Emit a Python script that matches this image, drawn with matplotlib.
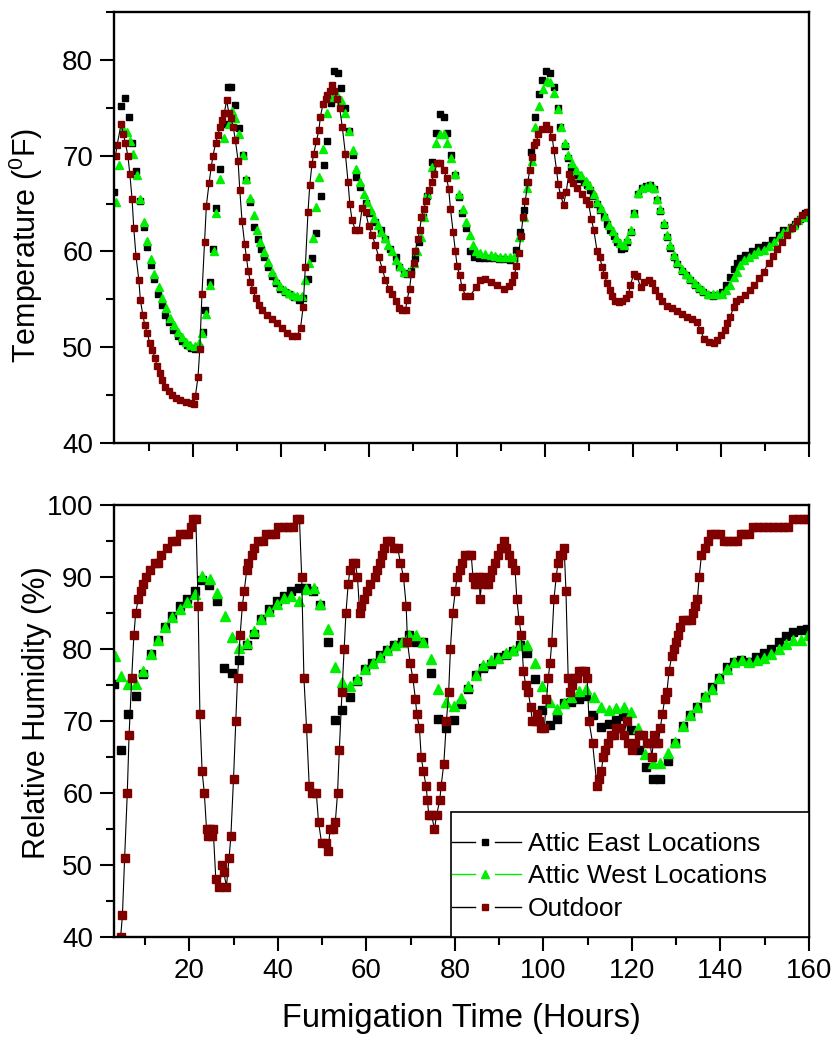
import numpy as np
import matplotlib
matplotlib.use("Agg")
import matplotlib.pyplot as plt
from matplotlib.ticker import MultipleLocator
from matplotlib.lines import Line2D
from matplotlib.patches import Rectangle
from matplotlib.legend_handler import HandlerBase

plt.rcParams['font.family'] = ['Liberation Sans', 'DejaVu Sans']
plt.rcParams['mathtext.default'] = 'regular'

# Temperature, outdoor
t_out_T = [2.35, 2.7, 3.6, 4.1, 4.6, 5.15, 5.6, 6.1, 6.5, 7.0,
           7.65, 8.0, 8.55, 9.0, 9.55, 10.15, 10.7, 11.3, 11.8, 12.4,
           13.0, 13.7, 14.5, 15.2, 16.2, 17.1, 18.3, 19.4, 20.2, 20.5,
           21.1, 21.5, 22.0, 22.6, 23.0, 23.6, 24.1, 24.5, 25.1, 25.6,
           26.1, 26.6, 27.1, 27.6, 28.1, 28.6, 29.1, 29.6, 30.2, 30.6,
           31.1, 31.7, 32.1, 32.5, 33.0, 33.6, 34.2, 34.9, 35.7, 36.8,
           38.0, 39.1, 40.2, 41.4, 42.5, 43.6, 44.4, 45.0, 45.5, 46.1,
           46.5, 47.0, 47.4, 48.0, 48.6, 48.9, 49.5, 50.1, 50.5, 51.1,
           51.6, 52.1, 52.7, 53.3, 53.9, 54.6, 55.2, 55.6, 56.1, 56.9,
           57.7, 58.4, 59.2, 59.9, 60.7, 61.4, 62.2, 63.0, 63.7, 64.5,
           65.2, 66.0, 66.7, 67.5, 68.3, 68.6, 69.2, 69.6, 70.2, 70.5,
           71.1, 71.5, 71.9, 72.4, 73.0, 73.6, 74.2, 74.7, 75.5, 76.2,
           77.0, 77.6, 78.1, 78.5, 79.1, 79.6, 80.0, 80.6, 81.1, 81.9,
           83.0, 84.2, 85.3, 86.4, 87.6, 89.1, 90.6, 91.7, 92.5, 93.0,
           93.5, 94.0, 94.5, 95.0, 95.5, 96.1, 96.5, 97.0, 97.4, 98.0,
           98.5, 99.3, 100.1, 100.8, 101.6, 102.0, 102.6, 103.0, 103.5, 104.2,
           104.8, 105.4, 105.8, 106.4, 107.3, 108.3, 109.2, 109.9, 110.5, 111.1,
           111.8, 112.4, 113.0, 113.5, 114.1, 114.7, 115.2, 116.0, 116.7, 117.5,
           118.3, 119.0, 119.4, 120.2, 120.9, 121.7, 122.4, 123.6, 124.3, 125.1,
           125.8, 126.6, 127.7, 128.9, 130.0, 131.1, 132.3, 133.4, 134.5, 135.3,
           136.1, 137.2, 138.3, 139.1, 140.0, 140.8, 141.4, 142.1, 142.9, 143.5,
           144.4, 145.5, 146.7, 147.6, 148.6, 149.7, 150.8, 151.8, 152.7, 153.9,
           155.0, 156.1, 157.3, 158.4, 159.5]
out_T = [70.0, 71.1, 73.3, 72.3, 71.3, 70.0, 68.1, 65.5, 62.4, 59.5,
         57.0, 54.9, 53.4, 52.3, 51.5, 50.4, 49.7, 48.9, 48.0, 47.3,
         46.6, 45.9, 45.4, 45.0, 44.7, 44.5, 44.3, 44.2, 44.1, 44.9,
         46.9, 49.8, 55.6, 61.0, 64.8, 67.1, 68.8, 70.0, 71.3, 72.2,
         73.0, 73.7, 74.5, 75.8, 74.5, 73.9, 73.0, 71.6, 69.5, 66.4,
         63.2, 60.8, 59.4, 58.0, 56.8, 56.0, 55.1, 54.4, 53.9, 53.4,
         53.0, 52.5, 52.0, 51.5, 51.2, 51.2, 52.0, 54.2, 58.4, 64.1,
         66.9, 69.1, 70.2, 71.5, 72.7, 74.0, 75.4, 75.9, 76.3, 76.8,
         77.4, 76.8, 75.9, 75.0, 73.0, 70.2, 67.3, 65.0, 63.3, 62.2,
         62.2, 64.5, 64.1, 62.7, 61.7, 60.7, 59.4, 58.2, 57.0, 56.1,
         55.6, 54.8, 54.1, 53.9, 53.9, 54.9, 56.1, 57.7, 58.8, 60.1,
         61.3, 62.2, 63.6, 64.4, 65.3, 66.4, 67.3, 68.1, 69.2, 69.2,
         68.5, 67.7, 66.5, 64.4, 62.0, 60.1, 58.5, 57.5, 56.3, 55.4,
         55.3, 56.3, 57.0, 57.1, 56.8, 56.5, 56.1, 56.4, 56.8, 57.5,
         58.5, 59.8, 61.6, 63.6, 65.3, 67.3, 68.5, 69.9, 71.1, 71.4,
         72.3, 72.8, 73.2, 72.8, 72.0, 70.6, 68.5, 67.0, 65.9, 64.9,
         66.2, 68.1, 67.6, 67.1, 66.6, 66.0, 65.4, 65.0, 63.4, 62.2,
         60.1, 59.4, 58.4, 57.5, 56.7, 56.0, 55.3, 54.8, 54.7, 54.8,
         55.1, 55.6, 56.5, 57.7, 57.4, 56.3, 56.8, 57.0, 56.7, 56.0,
         55.3, 54.8, 54.3, 54.1, 53.8, 53.5, 53.2, 52.9, 52.6, 51.8,
         50.9, 50.5, 50.4, 50.8, 51.3, 51.8, 52.5, 53.2, 54.2, 54.8,
         55.0, 55.5, 56.0, 56.5, 57.2, 57.9, 58.8, 59.5, 60.3, 61.0,
         61.7, 62.4, 63.2, 63.8, 64.1]

# Temperature, attic east
t_east_T = [2.1, 3.6, 4.4, 5.4, 6.1, 7.0, 7.9, 8.8, 9.5, 10.5,
            11.2, 12.0, 12.8, 13.6, 14.5, 15.5, 16.5, 17.5, 18.5, 19.5,
            20.5, 21.4, 22.3, 22.8, 23.8, 24.5, 25.3, 26.2, 27.1, 28.0,
            28.7, 29.6, 30.5, 31.3, 32.1, 32.9, 33.9, 34.7, 35.4, 36.2,
            37.0, 38.0, 38.9, 39.8, 40.8, 41.7, 42.9, 44.0, 45.0, 46.1,
            47.0, 48.0, 49.0, 49.8, 50.5, 51.3, 52.0, 52.9, 53.6, 54.5,
            55.4, 56.3, 57.1, 57.9, 59.2, 60.3, 61.4, 62.6, 63.7, 64.8,
            66.0, 66.9, 67.9, 68.6, 69.5, 70.5, 71.4, 72.3, 73.2, 74.3,
            75.3, 76.2, 77.0, 77.7, 78.6, 79.5, 80.4, 81.1, 82.0, 83.0,
            83.8, 84.9, 86.1, 87.2, 88.3, 89.5, 90.6, 92.1, 93.3, 94.4,
            95.3, 96.0, 96.8, 97.8, 98.6, 99.3, 100.3, 101.2, 102.1, 102.9,
            103.5, 104.5, 105.2, 105.8, 106.5, 107.3, 108.0, 108.8, 109.5, 110.3,
            111.0, 111.8, 112.5, 113.3, 114.0, 114.8, 115.6, 116.4, 117.3, 117.9,
            118.6, 119.5, 120.3, 121.1, 122.0, 123.0, 123.9, 124.8, 125.5, 126.2,
            127.0, 127.7, 128.5, 129.2, 130.1, 131.1, 132.1, 133.0, 134.0, 134.9,
            135.9, 137.0, 138.1, 139.1, 140.2, 141.2, 142.1, 142.9, 143.6, 144.4,
            145.5, 147.0, 148.5, 150.1, 151.6, 153.1, 154.2, 155.8, 156.9, 158.0,
            159.2, 159.9]
east_T = [66.2, 75.2, 76.0, 74.0, 71.3, 68.4, 65.3, 62.6, 60.5, 58.6,
          57.1, 55.6, 54.4, 53.4, 52.6, 51.8, 51.2, 50.7, 50.2, 49.9,
          49.8, 50.0, 51.6, 53.9, 56.8, 60.3, 64.5, 68.6, 73.3, 77.2,
          77.2, 75.3, 72.9, 70.1, 67.5, 65.2, 62.6, 61.3, 60.3, 59.4,
          58.4, 57.4, 56.7, 56.1, 55.8, 55.6, 55.2, 54.9, 55.1, 57.1,
          59.3, 61.9, 65.8, 69.0, 71.5, 75.5, 78.8, 78.6, 77.1, 75.0,
          72.6, 70.1, 67.8, 66.7, 65.1, 64.0, 63.1, 62.2, 61.3, 60.3,
          59.4, 58.4, 57.8, 57.6, 58.0, 59.3, 61.0, 63.6, 65.8, 69.3,
          72.4, 74.4, 74.0, 72.4, 70.1, 68.0, 65.7, 64.0, 62.4, 60.1,
          59.4, 59.3, 59.3, 59.3, 59.3, 59.2, 59.2, 59.1, 60.2, 62.0,
          64.3, 67.3, 70.4, 74.0, 76.4, 77.9, 78.8, 78.6, 77.2, 75.0,
          73.0, 71.0, 69.8, 68.8, 68.4, 68.0, 67.6, 67.3, 66.9, 66.4,
          65.8, 65.0, 64.3, 63.6, 62.9, 62.2, 61.6, 61.0, 60.3, 60.4,
          61.0, 62.0, 64.0, 66.0, 66.6, 66.8, 66.9, 66.5, 65.4, 64.2,
          62.8, 61.5, 60.4, 59.4, 58.7, 58.0, 57.5, 57.0, 56.5, 56.1,
          55.8, 55.5, 55.4, 55.5, 55.8, 56.5, 57.3, 58.2, 58.8, 59.3,
          59.6, 60.1, 60.5, 60.7, 61.2, 61.7, 62.2, 62.6, 62.9, 63.4,
          64.0, 64.1]

# Temperature, attic west
t_west_T = [2.35, 3.1, 4.1, 5.0, 5.6, 6.3, 7.3, 8.0, 8.8, 9.5,
            10.5, 11.2, 12.2, 13.0, 13.9, 14.7, 15.6, 16.5, 17.5, 18.3,
            19.2, 20.3, 21.3, 22.0, 23.0, 23.8, 24.7, 25.3, 26.2, 27.1,
            28.1, 28.9, 29.6, 30.5, 31.4, 32.1, 32.9, 33.8, 34.5, 35.3,
            36.2, 37.0, 38.0, 38.9, 39.8, 40.8, 41.7, 42.7, 43.6, 44.8,
            45.5, 46.3, 47.2, 48.0, 48.7, 49.5, 50.5, 51.8, 52.7, 53.5,
            54.6, 55.4, 56.3, 57.0, 57.9, 58.8, 59.5, 60.5, 61.2, 62.0,
            62.8, 63.6, 64.3, 65.2, 66.2, 67.1, 68.0, 69.0, 70.2, 70.9,
            71.7, 72.4, 73.2, 74.3, 75.1, 76.2, 77.0, 77.7, 78.6, 79.5,
            80.4, 81.3, 82.0, 82.9, 83.6, 84.4, 85.3, 86.4, 87.6, 88.7,
            89.8, 91.0, 92.1, 93.0, 94.0, 95.1, 96.0, 97.0, 97.8, 98.6,
            99.5, 100.5, 101.2, 102.0, 102.9, 103.6, 104.5, 105.2, 106.1, 107.1,
            108.2, 109.2, 110.1, 111.1, 111.8, 112.7, 113.6, 114.5, 115.4, 116.2,
            117.1, 117.9, 118.6, 119.5, 120.3, 121.1, 122.0, 123.0, 123.9, 124.8,
            125.5, 126.2, 127.0, 127.7, 128.5, 129.2, 130.1, 131.1, 132.1, 133.0,
            134.0, 134.9, 135.9, 137.0, 138.1, 139.1, 140.2, 141.2, 142.1, 142.9,
            143.6, 144.4, 145.3, 146.3, 147.4, 148.5, 149.7, 150.8, 152.0, 153.1,
            154.2, 155.4, 156.5, 157.6, 158.8, 159.7]
west_T = [65.2, 69.0, 72.8, 72.5, 71.5, 70.2, 68.0, 65.5, 63.1, 61.1,
          59.2, 57.6, 56.3, 55.1, 54.1, 53.1, 52.3, 51.6, 51.1, 50.6,
          50.2, 50.1, 50.4, 51.5, 53.5, 56.5, 60.1, 64.0, 67.6, 71.9,
          73.3, 74.7, 73.9, 72.3, 70.1, 67.6, 65.6, 63.8, 62.2, 61.0,
          59.9, 58.9, 57.9, 57.0, 56.4, 56.0, 55.7, 55.5, 55.4, 55.4,
          57.0, 58.8, 61.4, 64.6, 67.8, 70.7, 74.5, 76.1, 76.3, 75.8,
          74.5, 72.6, 70.6, 68.6, 67.3, 66.0, 65.2, 64.3, 63.5, 62.8,
          62.0, 61.4, 60.7, 60.0, 59.1, 58.5, 57.9, 57.9, 58.8, 60.0,
          61.5, 63.6, 66.0, 68.8, 71.3, 72.3, 72.3, 71.3, 69.8, 68.1,
          66.0, 64.4, 63.1, 61.7, 60.7, 60.1, 59.8, 59.7, 59.6, 59.5,
          59.4, 59.4, 59.4, 59.4, 61.5, 63.6, 66.6, 69.5, 73.0, 75.2,
          77.0, 77.8, 77.7, 76.6, 74.9, 73.0, 71.3, 70.1, 69.2, 68.5,
          68.0, 67.4, 66.9, 66.0, 65.2, 64.5, 63.7, 62.8, 62.1, 61.4,
          60.9, 60.7, 61.3, 62.2, 64.0, 66.1, 66.6, 66.7, 66.9, 66.6,
          65.5, 64.4, 63.0, 61.7, 60.7, 59.6, 58.9, 58.2, 57.7, 57.2,
          56.7, 56.3, 56.0, 55.6, 55.6, 55.6, 55.6, 56.0, 56.5, 57.3,
          57.9, 58.6, 59.1, 59.4, 59.7, 60.0, 60.2, 60.6, 61.0, 61.5,
          62.0, 62.5, 62.8, 63.3, 63.6, 64.0]

# Relative humidity, outdoor
t_out_RH = [4.5, 4.9, 5.4, 6.0, 6.4, 7.0, 7.5, 7.9, 8.5, 9.0,
            9.6, 10.3, 11.1, 12.2, 13.0, 13.7, 14.9, 16.0, 17.0, 17.9,
            19.0, 19.8, 20.3, 20.9, 21.5, 22.0, 22.4, 22.9, 23.4, 23.9,
            24.3, 24.7, 25.1, 25.4, 26.0, 26.8, 27.5, 27.8, 28.4, 29.0,
            29.4, 30.0, 30.5, 30.9, 31.5, 32.0, 32.4, 33.0, 33.3, 34.1,
            34.7, 35.6, 36.7, 37.3, 38.4, 39.4, 40.1, 41.3, 42.4, 43.5,
            44.3, 44.9, 45.4, 45.9, 46.5, 47.1, 47.7, 48.7, 49.2, 49.9,
            50.9, 51.4, 51.8, 52.4, 53.0, 53.5, 53.9, 54.5, 55.0, 55.4,
            55.9, 56.3, 56.9, 57.5, 58.0, 58.5, 58.9, 59.5, 60.1, 60.9,
            62.0, 62.5, 63.0, 63.5, 64.0, 64.6, 65.4, 66.2, 67.1, 67.7,
            68.4, 69.0, 69.3, 69.9, 70.5, 71.1, 71.4, 72.0, 72.4, 72.9,
            73.5, 73.8, 74.1, 74.7, 75.4, 75.9, 76.6, 76.9, 77.5, 78.1,
            78.6, 79.0, 79.5, 80.1, 80.5, 81.1, 81.6, 82.2, 83.2, 83.7,
            84.1, 84.5, 84.9, 85.5, 85.7, 86.2, 87.0, 87.5, 88.0, 88.5,
            89.1, 89.8, 90.4, 91.0, 91.5, 92.3, 93.0, 93.6, 94.0, 94.5,
            95.0, 95.5, 96.0, 96.6, 97.1, 97.5, 98.3, 98.6, 99.0, 99.4,
            100.2, 100.7, 101.1, 101.5, 101.9, 102.4, 102.9, 103.3, 103.7, 104.2,
            104.7, 105.1, 105.6, 106.0, 106.4, 106.9, 107.5, 108.1, 108.8, 109.4,
            109.9, 110.3, 111.1, 112.1, 112.6, 113.1, 113.5, 114.0, 114.6, 115.2,
            115.9, 116.5, 117.4, 118.1, 118.9, 119.2, 120.0, 120.7, 121.7, 122.6,
            123.3, 124.1, 124.5, 125.0, 125.6, 126.0, 126.4, 126.9, 127.4, 127.9,
            128.4, 129.0, 129.5, 129.9, 130.5, 130.9, 131.6, 132.5, 133.3, 133.7,
            134.3, 134.8, 135.2, 135.7, 136.5, 137.3, 137.8, 138.8, 139.9, 140.8,
            141.7, 142.9, 143.8, 144.7, 145.4, 146.5, 147.3, 148.4, 149.6, 150.7,
            151.8, 153.0, 154.1, 155.2, 156.4, 157.5, 158.6, 159.6]
out_RH = [40, 43, 51, 60, 68, 76, 82, 85, 87, 88,
          89, 90, 91, 92, 92, 93, 94, 95, 95, 96,
          96, 96, 97, 98, 98, 86, 71, 63, 60, 55,
          54, 55, 54, 55, 48, 47, 50, 49, 47, 51,
          54, 62, 70, 76, 82, 86, 88, 91, 92, 93,
          94, 95, 95, 96, 96, 96, 97, 97, 97, 97,
          98, 98, 90, 76, 69, 61, 60, 60, 56, 53,
          53, 52, 55, 55, 56, 60, 66, 74, 80, 85,
          89, 91, 92, 92, 90, 85, 86, 87, 88, 89,
          90, 91, 92, 93, 94, 95, 95, 94, 94, 92,
          90, 86, 81, 78, 76, 73, 71, 69, 65, 63,
          61, 59, 57, 57, 55, 57, 59, 61, 64, 70,
          74, 80, 85, 88, 90, 91, 92, 93, 93, 93,
          90, 89, 89, 90, 87, 90, 89, 89, 90, 91,
          92, 93, 94, 95, 94, 93, 92, 91, 87, 84,
          82, 77, 75, 74, 72, 70, 70, 71, 70, 69,
          69, 73, 76, 78, 81, 87, 90, 92, 93, 93,
          94, 88, 76, 74, 75, 76, 76, 77, 77, 77,
          76, 70, 67, 61, 62, 63, 65, 66, 67, 68,
          68, 69, 69, 68, 70, 67, 66, 67, 68, 68,
          67, 67, 65, 68, 67, 67, 69, 71, 73, 74,
          77, 79, 80, 81, 82, 83, 84, 84, 84, 85,
          86, 87, 90, 93, 94, 95, 96, 96, 96, 95,
          95, 95, 95, 96, 96, 96, 97, 97, 97, 97,
          97, 97, 97, 97, 98, 98, 98, 98]

# Relative humidity, attic east
t_east_RH = [3.0, 4.5, 6.2, 7.9, 9.6, 11.3, 13.0, 14.6, 16.2, 17.9,
             19.6, 21.3, 22.9, 24.5, 26.2, 27.9, 29.7, 31.3, 33.0, 34.6,
             36.3, 38.0, 39.8, 41.4, 43.0, 44.7, 46.3, 47.9, 49.6, 51.3,
             53.0, 54.6, 56.2, 57.9, 59.6, 61.3, 63.0, 64.6, 66.3, 68.0,
             69.7, 71.3, 72.9, 74.7, 76.3, 78.0, 79.7, 81.5, 83.0, 84.7,
             86.4, 88.1, 89.8, 91.5, 93.2, 94.8, 96.4, 98.1, 99.7, 101.4,
             103.1, 104.7, 106.3, 108.0, 109.6, 111.3, 113.1, 114.9, 116.4, 118.0,
             119.7, 121.5, 123.2, 124.8, 126.4, 128.1, 129.7, 131.5, 133.1, 134.8,
             136.5, 138.1, 139.7, 141.4, 143.0, 144.7, 146.4, 148.1, 149.8, 151.4,
             153.2, 154.8, 156.5, 158.1, 159.6]
east_RH = [75.1, 65.9, 70.9, 73.5, 76.5, 79.3, 81.3, 83.1, 84.6, 86.0,
           86.9, 88.1, 89.6, 88.9, 86.6, 77.4, 76.6, 78.5, 80.5, 82.1,
           84.1, 85.6, 86.6, 87.4, 88.1, 88.5, 88.4, 88.0, 86.1, 80.9,
           70.1, 71.5, 73.3, 75.5, 77.2, 78.1, 79.1, 79.9, 80.6, 81.0,
           81.9, 80.9, 80.9, 76.6, 70.3, 69.0, 70.1, 72.3, 74.4, 76.4,
           77.3, 77.9, 78.9, 79.1, 79.7, 80.6, 79.5, 75.8, 71.5, 69.5,
           70.3, 72.5, 72.6, 73.1, 73.4, 70.8, 69.2, 69.6, 70.2, 70.7,
           68.7, 66.0, 63.6, 61.9, 61.9, 64.4, 66.9, 69.3, 70.8, 71.9,
           73.3, 74.7, 75.9, 77.5, 78.2, 78.5, 78.2, 78.9, 79.5, 80.0,
           81.0, 81.8, 82.4, 82.6, 82.8]

# Relative humidity, attic west
t_west_RH = [3.2, 4.5, 6.2, 7.9, 9.6, 11.3, 13.0, 14.6, 16.2, 17.9,
             19.6, 21.3, 22.9, 24.7, 26.3, 28.0, 29.7, 31.3, 33.0, 34.6,
             36.3, 38.0, 39.8, 41.4, 43.0, 44.7, 46.3, 48.1, 49.6, 51.3,
             53.0, 54.6, 56.3, 58.0, 59.7, 61.4, 63.1, 64.6, 66.4, 68.0,
             69.7, 71.3, 72.9, 74.7, 76.3, 78.0, 79.8, 81.5, 83.0, 84.7,
             86.4, 88.1, 89.8, 91.5, 93.2, 94.8, 96.4, 98.1, 99.7, 101.4,
             103.1, 104.7, 106.3, 108.0, 109.7, 111.5, 113.1, 114.8, 116.5, 118.1,
             119.7, 121.4, 123.0, 124.7, 126.4, 128.1, 129.8, 131.5, 133.1, 134.8,
             136.5, 138.1, 139.7, 141.5, 143.1, 144.8, 146.5, 148.2, 149.8, 151.4,
             153.2, 154.8, 156.5, 158.1, 159.7]
west_RH = [79.0, 76.3, 75.1, 75.1, 77.0, 79.3, 81.2, 83.0, 84.5, 85.5,
           86.5, 87.6, 90.1, 89.7, 87.8, 84.6, 81.6, 80.1, 80.8, 82.5,
           84.1, 85.3, 86.3, 87.1, 87.4, 86.7, 88.3, 88.4, 86.3, 82.8,
           77.5, 75.4, 74.8, 75.8, 77.2, 78.1, 78.9, 79.8, 80.6, 81.0,
           81.9, 81.9, 81.0, 78.6, 74.4, 72.6, 72.1, 73.2, 74.8, 76.4,
           77.8, 78.4, 78.8, 79.4, 79.8, 80.6, 80.5, 78.1, 74.8, 72.7,
           71.6, 72.5, 73.3, 74.2, 74.5, 73.3, 71.9, 71.5, 71.8, 71.9,
           71.3, 69.0, 65.4, 64.2, 64.2, 65.5, 67.1, 69.3, 70.8, 72.0,
           73.4, 74.5, 75.9, 77.2, 78.2, 78.5, 78.2, 78.5, 78.7, 79.3,
           80.0, 80.7, 81.3, 81.3, 81.9]

labels = ['Attic East Locations', 'Attic West Locations', 'Outdoor']
c_east = 'black'
c_west = '#00ee00'
c_out = '#800000'


class GapLineHandler(HandlerBase):
    # line - symbol - line, with a gap either side of the symbol
    def create_artists(self, legend, orig_handle, xdescent, ydescent,
                       width, height, fontsize, trans):
        x0 = -xdescent
        y = height / 2.0 - ydescent
        lc = orig_handle.get_color()
        left = Line2D([x0, x0 + 0.34 * width], [y, y], color=lc, lw=1)
        right = Line2D([x0 + 0.63 * width, x0 + width], [y, y], color=lc, lw=1)
        mark = Line2D([x0 + 0.485 * width], [y], ls='none',
                      marker=orig_handle.get_marker(),
                      ms=orig_handle.get_markersize(),
                      mfc=orig_handle.get_markerfacecolor(),
                      mec=orig_handle.get_markeredgecolor())
        for a in (left, right, mark):
            a.set_transform(trans)
        return [left, right, mark]


fig = plt.figure(figsize=(8.34, 10.39), dpi=100)
ax1 = fig.add_axes([0.1367, 0.5736, 0.8333, 0.4148])
ax2 = fig.add_axes([0.1367, 0.0982, 0.8333, 0.4158])

# top panel
ax1.plot(t_east_T, east_T, ls='none', marker='s', ms=5, color=c_east)
ax1.plot(t_west_T, west_T, ls='none', marker='^', ms=6, color=c_west)
ax1.plot(t_out_T, out_T, '-', color='black', lw=0.8,
         marker='s', ms=5, mfc=c_out, mec=c_out)

# bottom panel
ax2.plot(t_east_RH, east_RH, ls='none', marker='s', ms=5.5, color=c_east)
ax2.plot(t_west_RH, west_RH, ls='none', marker='^', ms=6.5, color=c_west)
ax2.plot(t_out_RH, out_RH, '-', color='black', lw=0.8,
         marker='s', ms=5.5, mfc=c_out, mec=c_out)

ax1.set_xlim(2, 160)
ax1.set_ylim(40, 85)
ax2.set_xlim(3, 160)
ax2.set_ylim(40, 100)

for ax in (ax1, ax2):
    ax.xaxis.set_major_locator(MultipleLocator(20))
    ax.xaxis.set_minor_locator(MultipleLocator(10))
    ax.yaxis.set_major_locator(MultipleLocator(10))
    ax.yaxis.set_minor_locator(MultipleLocator(5))
    ax.tick_params(which='major', direction='out', length=10, width=1.5,
                   labelsize=20, pad=5)
    ax.tick_params(which='minor', direction='out', length=5.5, width=1.5)
    for s in ax.spines.values():
        s.set_linewidth(1.7)

ax1.tick_params(axis='x', which='both', labelbottom=False)

ax1.set_ylabel('Temperature ($^0$F)', fontsize=22)
ax1.yaxis.set_label_coords(-0.100, 0.459)
ax2.set_ylabel('Relative Humidity (%)', fontsize=22)
ax2.yaxis.set_label_coords(-0.089, 0.52)
ax2.set_xlabel('Fumigation Time (Hours)', fontsize=23.5, labelpad=14)

# legend box
box = Rectangle((0.485, 0.0), 0.515, 0.289, transform=ax2.transAxes,
                fc='white', ec='black', lw=1.2, zorder=5)
ax2.add_patch(box)

handles = [
    Line2D([], [], color=c_east, marker='s', ms=5),
    Line2D([], [], color=c_west, marker='^', ms=6),
    Line2D([], [], color='black', marker='s', ms=5, mfc=c_out, mec=c_out),
]
leg = ax2.legend(handles, labels, loc='center left',
                 bbox_to_anchor=(0.4865, 0.14), frameon=False,
                 borderaxespad=0, borderpad=0, fontsize=19,
                 handlelength=2.6, handletextpad=0.27, labelspacing=0.33,
                 handler_map={Line2D: GapLineHandler()})
leg.set_zorder(6)

fig.savefig('out.png', dpi=100)
